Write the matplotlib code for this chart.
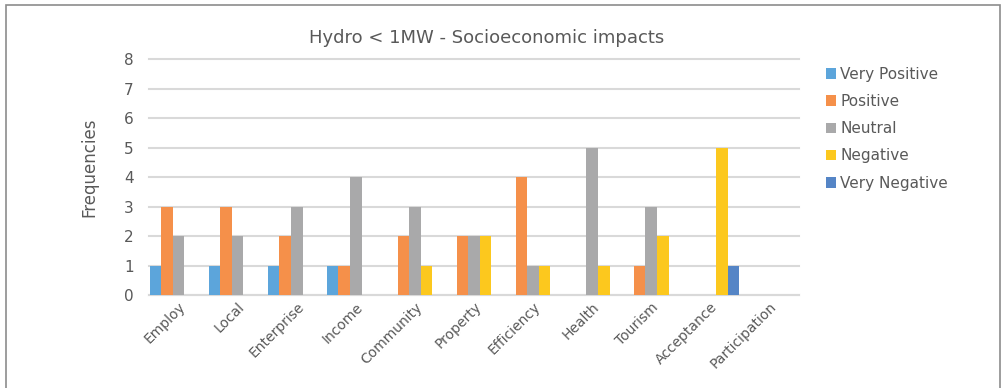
import numpy as np
import matplotlib.pyplot as plt
from matplotlib.patches import Rectangle

categories = ['Employ', 'Local', 'Enterprise', 'Income', 'Community', 'Property',
              'Efficiency', 'Health', 'Tourism', 'Acceptance', 'Participation']
series = ['Very Positive', 'Positive', 'Neutral', 'Negative', 'Very Negative']
very_positive = [1, 1, 1, 1, 0, 0, 0, 0, 0, 0, 0]
positive = [3, 3, 2, 1, 2, 2, 4, 0, 1, 0, 0]
neutral = [2, 2, 3, 4, 3, 2, 1, 5, 3, 0, 0]
negative = [0, 0, 0, 0, 1, 2, 1, 1, 2, 5, 0]
very_negative = [0, 0, 0, 0, 0, 0, 0, 0, 0, 1, 0]
colors = ['#5CA5DB', '#F5904A', '#A9A9AA', '#FCC81E', '#5585C6']

values = [very_positive, positive, neutral, negative, very_negative]

fig = plt.figure(figsize=(10.06, 3.88), dpi=100)
ax = fig.add_axes([149 / 1006, 1 - 295 / 388, 650 / 1006, (295 - 59.3) / 388])

# chart border
fig.patches.append(Rectangle((6 / 1006, -0.05), 994 / 1006, 1.05 - 5 / 388,
                             transform=fig.transFigure, fill=False,
                             edgecolor='#8c8c8c', lw=1.2))

x = np.arange(len(categories))
w = 0.196
for i, (name, vals) in enumerate(zip(series, values)):
    ax.bar(x + (i - 2) * w, vals, width=w, color=colors[i], label=name, zorder=3)

ax.set_xlim(-0.5, len(categories) - 0.5)
ax.set_ylim(0, 8)
ax.set_yticks(range(0, 9))
ax.yaxis.grid(True, color='#D9D9D9', lw=1.5, zorder=0, clip_on=False)
for s in ['top', 'right', 'left']:
    ax.spines[s].set_visible(False)
ax.spines['bottom'].set_color('#D9D9D9')
ax.spines['bottom'].set_linewidth(1.5)
ax.tick_params(axis='both', length=0, colors='#595959', labelsize=11)
ax.tick_params(axis='y', pad=11)
ax.set_xticks(x)
ax.set_xticklabels(categories, rotation=45, ha='right', rotation_mode='anchor',
                   fontsize=10)

fig.text(89 / 1006, 1 - 167 / 388, 'Frequencies', rotation=90,
         ha='center', va='center', fontsize=12, color='#595959')
fig.text(487 / 1006, 1 - 38 / 388, 'Hydro < 1MW - Socioeconomic impacts',
         ha='center', va='center', fontsize=13, color='#595959')

ax.legend(loc='upper left', bbox_to_anchor=(812 / 1006, 1 - 53 / 388),
          bbox_transform=fig.transFigure, frameon=False, fontsize=11,
          handlelength=0.7, handleheight=0.7, handletextpad=0.25,
          labelspacing=0.8, labelcolor='#595959')

fig.savefig('out.png', dpi=100)
